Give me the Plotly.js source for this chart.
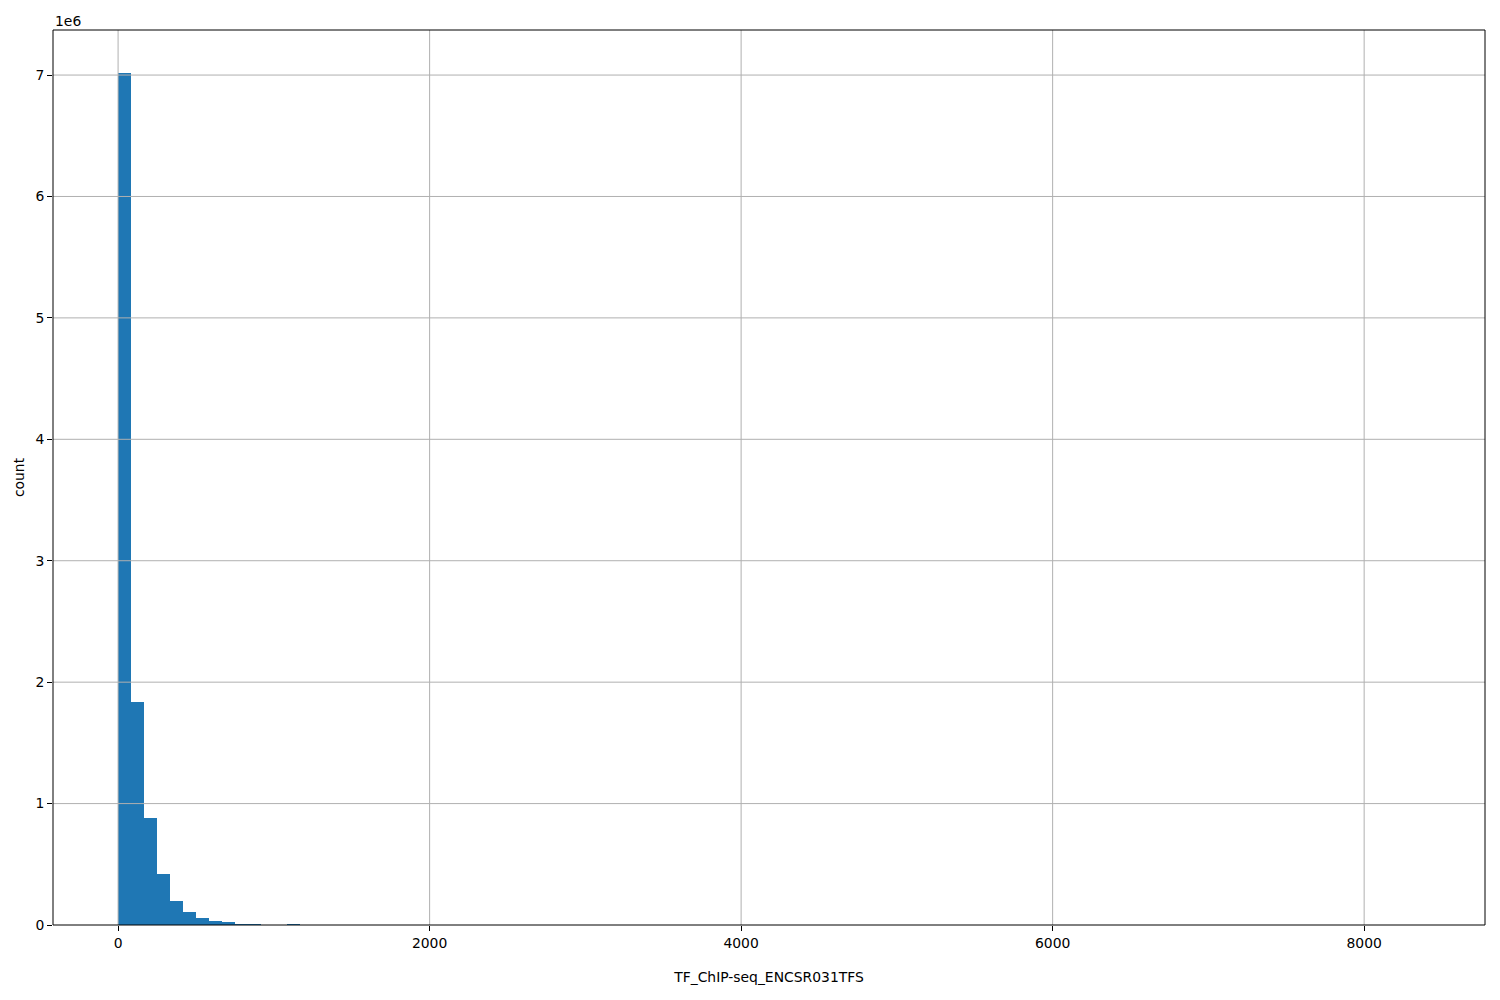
<!DOCTYPE html>
<html>
<head>
<meta charset="utf-8">
<script src="https://cdn.plot.ly/plotly-3.0.1.min.js"></script>
<style>html,body{margin:0;padding:0;background:#fff;}#chart{width:1500px;height:1000px;}</style>
</head>
<body>
<div id="chart"></div>
<script>
// Histogram data (100 equal-width bins from binStart)
const binStart = 0;
const binEnd = 8358;
const counts = [
  7020000, 1840000, 884000, 423000, 200000, 110000, 58000, 35000, 25000, 11000,
  9000, 3000, 2500, 12000, 1500, 1200, 900, 700, 550, 450,
  380, 320, 270, 230, 200, 170, 150, 130, 110, 95,
  85, 75, 65, 58, 50, 45, 40, 36, 32, 29,
  26, 23, 21, 19, 17, 15, 14, 13, 12, 11,
  10, 9, 8, 8, 7, 7, 6, 6, 5, 5,
  5, 4, 4, 4, 3, 3, 3, 3, 2, 2,
  2, 2, 2, 2, 1, 1, 1, 1, 1, 1,
  1, 1, 0, 1, 0, 1, 0, 0, 1, 0,
  0, 1, 0, 0, 0, 0, 0, 0, 0, 1
];
const xTicks = [0, 2000, 4000, 6000, 8000];
const yTicks = [0, 1000000, 2000000, 3000000, 4000000, 5000000, 6000000, 7000000];
const yTickLabels = ['0', '1', '2', '3', '4', '5', '6', '7'];
const xLabel = 'TF_ChIP-seq_ENCSR031TFS';
const yLabel = 'count';
const yScaleLabel = '1e6';

const nBins = counts.length;
const binWidth = (binEnd - binStart) / nBins;
const centers = counts.map((_, i) => binStart + (i + 0.5) * binWidth);
const span = binEnd - binStart;
const xRange = [binStart - 0.05 * span, binEnd + 0.05 * span];
const yRange = [0, Math.max(...counts) * 1.05];

const gridColor = '#b0b0b0';
const shapes = [];
xTicks.forEach(t => shapes.push({type: 'line', layer: 'above', xref: 'x', yref: 'paper', x0: t, x1: t, y0: 0, y1: 1, line: {color: gridColor, width: 1}}));
yTicks.slice(1).forEach(t => shapes.push({type: 'line', layer: 'above', xref: 'paper', yref: 'y', x0: 0, x1: 1, y0: t, y1: t, line: {color: gridColor, width: 1}}));
// frame on top
shapes.push({type: 'rect', layer: 'above', xref: 'paper', yref: 'paper', x0: 0, x1: 1, y0: 0, y1: 1, line: {color: '#000', width: 1}});

const font = {family: 'DejaVu Sans, sans-serif', size: 13.9, color: '#000'};

Plotly.newPlot('chart', [{
  type: 'bar',
  x: centers,
  y: counts,
  width: binWidth,
  marker: {color: '#1f77b4', line: {width: 0}},
  hoverinfo: 'x+y'
}], {
  width: 1500, height: 1000,
  margin: {l: 53, r: 15, t: 30, b: 75, pad: 0},
  paper_bgcolor: '#fff', plot_bgcolor: '#fff',
  font: font,
  showlegend: false,
  bargap: 0,
  xaxis: {
    range: xRange, autorange: false,
    tickvals: xTicks, ticktext: xTicks.map(String),
    showgrid: false, zeroline: false,
    ticks: 'outside', ticklen: 5, tickwidth: 1, tickcolor: '#000',
    showline: false,
    tickfont: font,
    title: {text: xLabel, font: font, standoff: 22},
    automargin: false
  },
  yaxis: {
    range: yRange, autorange: false,
    tickvals: yTicks, ticktext: yTickLabels,
    showgrid: false, zeroline: false,
    ticks: 'outside', ticklen: 5, tickwidth: 1, tickcolor: '#000',
    showline: false,
    tickfont: font,
    title: {text: yLabel, font: font, standoff: 7},
    automargin: false
  },
  shapes: shapes,
  annotations: [{
    text: yScaleLabel, xref: 'paper', yref: 'paper', x: 0, y: 1,
    xanchor: 'left', yanchor: 'bottom', yshift: -1, showarrow: false, font: font
  }]
}, {displayModeBar: false, staticPlot: true});
</script>
</body>
</html>
